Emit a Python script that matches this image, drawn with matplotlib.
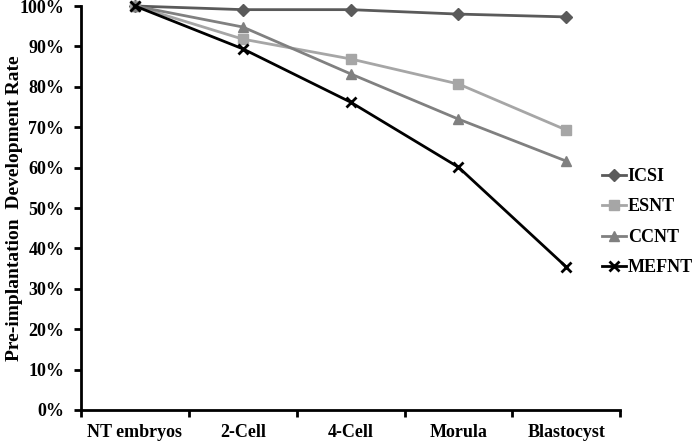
import matplotlib
matplotlib.use("Agg")
import matplotlib.pyplot as plt
from matplotlib.ticker import FixedLocator, PercentFormatter

categories = ["NT embryos", "2-Cell", "4-Cell", "Morula", "Blastocyst"]
icsi = [100, 99.1, 99.1, 98.0, 97.3]
esnt = [100, 91.8, 86.9, 80.7, 69.3]
ccnt = [100, 94.8, 83.2, 72.0, 61.6]
mefnt = [100, 89.4, 76.2, 60.1, 35.4]
series_names = ["ICSI", "ESNT", "CCNT", "MEFNT"]

plt.rcParams['font.family'] = ['Liberation Serif', 'DejaVu Serif']
plt.rcParams['font.weight'] = 'bold'

fig = plt.figure(figsize=(6.93, 4.42), dpi=100)
ax = fig.add_axes([0.117, 0.0724, 0.778, 0.914])

x = list(range(len(categories)))
styles = [
    (icsi, "#5a5a5a", "D", 6),
    (esnt, "#a6a6a6", "s", 6.5),
    (ccnt, "#808080", "^", 7.5),
    (mefnt, "#000000", "x", 7),
]
for (vals, col, mk, ms), name in zip(styles, series_names):
    ax.plot(x, vals, color=col, marker=mk, markersize=ms, linewidth=2,
            markeredgewidth=2 if mk == "x" else 1, markeredgecolor=col,
            markerfacecolor=col, label=name, clip_on=False, zorder=3)

ax.set_xlim(-0.5, 4.5)
ax.set_ylim(0, 100)
ax.set_yticks(range(0, 101, 10))
ax.yaxis.set_major_formatter(PercentFormatter(decimals=0))
ax.xaxis.set_major_locator(FixedLocator([i - 0.5 for i in range(len(categories) + 1)]))
ax.xaxis.set_ticklabels([])
ax.set_xticks(x, minor=True)
ax.set_xticklabels(categories, minor=True)
ax.tick_params(axis='x', which='minor', length=0, pad=10, labelsize=13)
ax.tick_params(axis='x', which='major', length=5, width=2, direction='out')
ax.tick_params(axis='y', length=5, width=2, direction='out', labelsize=13, pad=7)

for s in ['top', 'right']:
    ax.spines[s].set_visible(False)
for s in ['left', 'bottom']:
    ax.spines[s].set_linewidth(2)

ax.set_ylabel("Pre-implantation  Development Rate", fontsize=14, fontweight='bold')
ax.yaxis.set_label_coords(-0.108, 0.5)

leg = ax.legend(loc='center left', bbox_to_anchor=(0.967, 0.465), frameon=False,
                fontsize=13, handlelength=1.3, handletextpad=0.1, labelspacing=0.75,
                borderaxespad=0, borderpad=0)

fig.savefig("out.png", dpi=100)
